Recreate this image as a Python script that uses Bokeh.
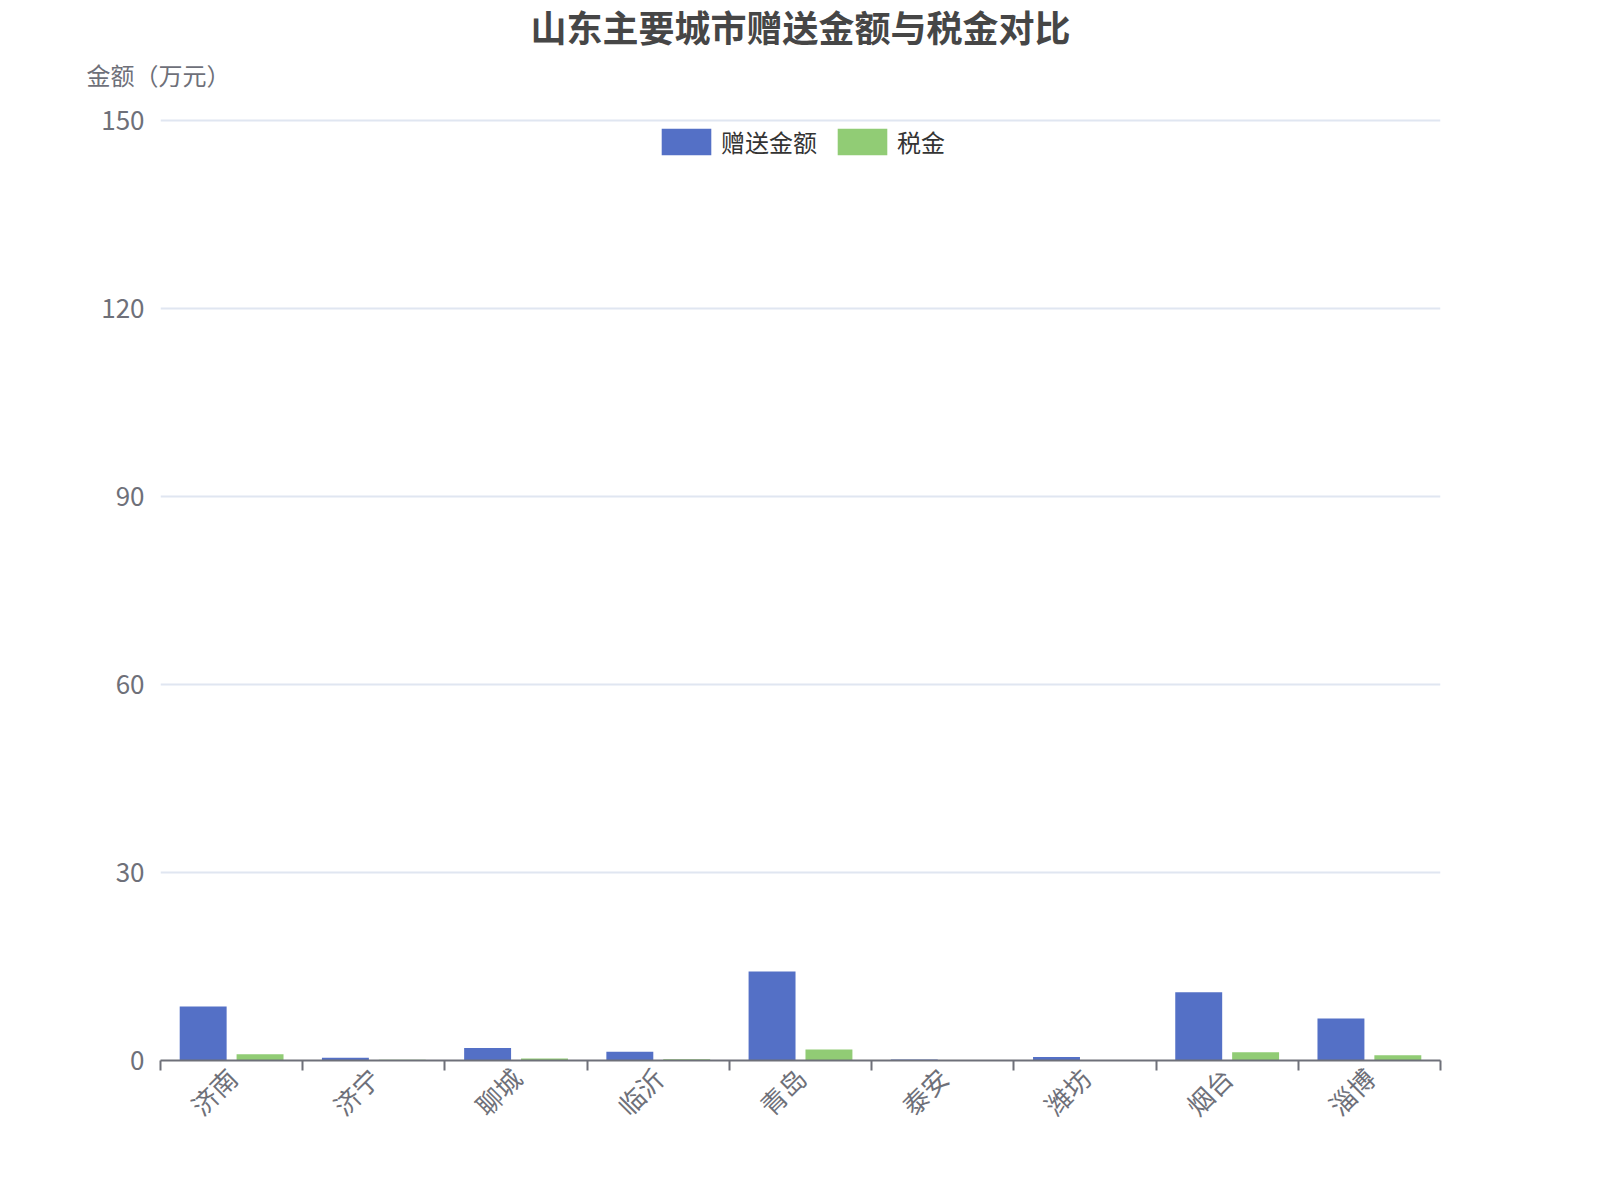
import math
from bokeh.plotting import figure
from bokeh.models import (Range1d, FixedTicker, Title, Legend, LegendItem, ColumnDataSource)
from bokeh.embed import file_html
from bokeh.resources import INLINE

# ---- data ----
cities = ["济南", "济宁", "聊城", "临沂", "青岛", "泰安", "潍坊", "烟台", "淄博"]
gift_amount = [8.6, 0.45, 2.0, 1.4, 14.2, 0.17, 0.55, 10.9, 6.7]
tax_amount = [1.0, 0.1, 0.3, 0.2, 1.75, 0.03, 0.08, 1.33, 0.85]
series_names = ["赠送金额", "税金"]
y_ticks = [0, 30, 60, 90, 120, 150]
title_text = "山东主要城市赠送金额与税金对比"
y_name = "金额（万元）"

FONT = "Noto Sans CJK SC"
BLUE = "#5470C6"
GREEN = "#91CC75"
AXIS = "#6E7079"

n = len(cities)
centers = [i + 0.5 for i in range(n)]
src = ColumnDataSource(dict(
    x_gift=[c - 0.2 for c in centers],
    x_tax=[c + 0.2 for c in centers],
    gift=gift_amount,
    tax=tax_amount,
    city=cities,
))

p = figure(
    title=None,
    frame_width=1280, frame_height=942,
    min_border_left=160, min_border_right=150,
    min_border_top=118, min_border_bottom=128,
    x_range=Range1d(0, n), y_range=Range1d(0, 150.3),
    output_backend="svg", toolbar_location=None,
    background_fill_color="white", border_fill_color="white",
)
p.outline_line_color = None

r1 = p.vbar(x="x_gift", top="gift", width=0.33, source=src,
            fill_color=BLUE, line_color=None)
r2 = p.vbar(x="x_tax", top="tax", width=0.33, source=src,
            fill_color=GREEN, line_color=None)

# x axis
xa = p.xaxis[0]
xa.ticker = FixedTicker(ticks=centers, minor_ticks=list(range(n + 1)))
xa.major_label_overrides = {c: name for c, name in zip(centers, cities)}
xa.major_tick_line_color = None
xa.minor_tick_line_color = AXIS
xa.minor_tick_line_width = 2
xa.minor_tick_out = 10
xa.minor_tick_in = 0
xa.axis_line_color = AXIS
xa.axis_line_width = 2
xa.major_label_orientation = math.pi / 4
xa.major_label_text_font = FONT
xa.major_label_text_font_size = "26px"
xa.major_label_text_color = AXIS
xa.major_label_standoff = 2

# y axis
ya = p.yaxis[0]
ya.ticker = FixedTicker(ticks=y_ticks)
ya.axis_line_color = None
ya.major_tick_line_color = None
ya.minor_tick_line_color = None
ya.major_label_text_font = FONT
ya.major_label_text_font_size = "26px"
ya.major_label_text_color = AXIS
ya.major_label_standoff = 10

p.xgrid.grid_line_color = None
p.ygrid.grid_line_color = "#E0E6F1"
p.ygrid.grid_line_width = 2

# axis name (closest to the frame) then main title
p.add_layout(Title(text=y_name, align="left", offset=-74, standoff=53.5,
                   text_font=FONT, text_font_size="24px", text_font_style="normal",
                   text_color=AXIS), "above")
p.add_layout(Title(text=title_text, align="center", standoff=-48,
                   text_font=FONT, text_font_size="36px", text_font_style="bold",
                   text_color="#464646"), "above")

legend = Legend(items=[LegendItem(label=series_names[0], renderers=[r1]),
                       LegendItem(label=series_names[1], renderers=[r2])],
                location="top_center", orientation="horizontal",
                glyph_width=62, glyph_height=33, label_standoff=4, spacing=14,
                label_text_font=FONT, label_text_font_size="24px",
                label_text_color="#333333",
                border_line_color=None, background_fill_alpha=0,
                padding=0, margin=6)
p.add_layout(legend)

open("out.html", "w").write(file_html(p, INLINE))
